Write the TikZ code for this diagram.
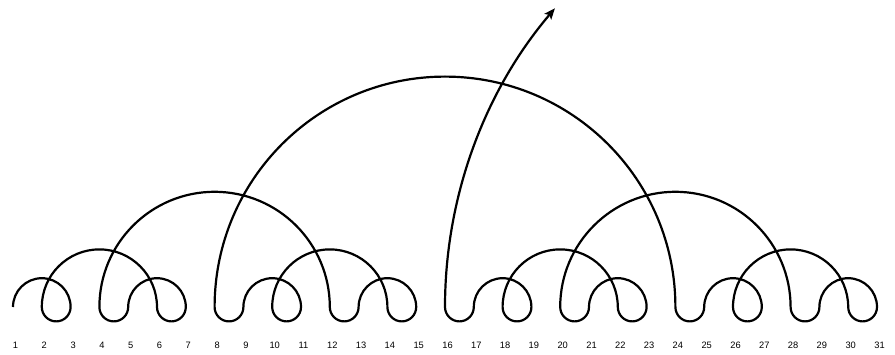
\documentclass[tikz,border=0pt]{standalone}
\usepackage{fontspec}
\setmainfont{Liberation Sans}
\usetikzlibrary{arrows.meta}
\begin{document}
\begin{tikzpicture}[x=1pt,y=1pt,
  curve/.style={line width=2.2pt,line join=round,line cap=butt,-{Stealth[length=11pt,width=9pt,inset=2.5pt]}},
  numlabel/.style={font=\fontsize{9.3}{10}\selectfont,inner sep=0pt,anchor=center}]
\useasboundingbox (0,0) rectangle (895,354);
% semicircle radii
\def\ra{28.8pt}
\def\rh{14.4pt}
\draw[curve] (13,47)
  arc[start angle=180,end angle=0,radius=\ra]      % 1 -> 3
  arc[start angle=0,end angle=-180,radius=\rh]     % 3 -> 2
  arc[start angle=180,end angle=0,radius=57.6pt]   % 2 -> 6
  arc[start angle=180,end angle=360,radius=\rh]    % 6 -> 7
  arc[start angle=0,end angle=180,radius=\ra]      % 7 -> 5
  arc[start angle=0,end angle=-180,radius=\rh]     % 5 -> 4
  arc[start angle=180,end angle=0,radius=115.2pt]  % 4 -> 12
  arc[start angle=180,end angle=360,radius=\rh]    % 12 -> 13
  arc[start angle=180,end angle=0,radius=\ra]      % 13 -> 15
  arc[start angle=0,end angle=-180,radius=\rh]     % 15 -> 14
  arc[start angle=0,end angle=180,radius=57.6pt]   % 14 -> 10
  arc[start angle=180,end angle=360,radius=\rh]    % 10 -> 11
  arc[start angle=0,end angle=180,radius=\ra]      % 11 -> 9
  arc[start angle=0,end angle=-180,radius=\rh]     % 9 -> 8
  arc[start angle=180,end angle=0,radius=230.4pt]  % 8 -> 24
  arc[start angle=180,end angle=360,radius=\rh]    % 24 -> 25
  arc[start angle=180,end angle=0,radius=\ra]      % 25 -> 27
  arc[start angle=0,end angle=-180,radius=\rh]     % 27 -> 26
  arc[start angle=180,end angle=0,radius=57.6pt]   % 26 -> 30
  arc[start angle=180,end angle=360,radius=\rh]    % 30 -> 31
  arc[start angle=0,end angle=180,radius=\ra]      % 31 -> 29
  arc[start angle=0,end angle=-180,radius=\rh]     % 29 -> 28
  arc[start angle=0,end angle=180,radius=115.2pt]  % 28 -> 20
  arc[start angle=180,end angle=360,radius=\rh]    % 20 -> 21
  arc[start angle=180,end angle=0,radius=\ra]      % 21 -> 23
  arc[start angle=0,end angle=-180,radius=\rh]     % 23 -> 22
  arc[start angle=0,end angle=180,radius=57.6pt]   % 22 -> 18
  arc[start angle=180,end angle=360,radius=\rh]    % 18 -> 19
  arc[start angle=0,end angle=180,radius=\ra]      % 19 -> 17
  arc[start angle=0,end angle=-180,radius=\rh]     % 17 -> 16
  arc[start angle=180,end angle=139.6,radius=460.8pt]; % 16 -> out
\foreach \k in {1,...,31}{
  \node[numlabel] (n\k) at ({15.5+28.8*(\k-1)},8.5) {\k};
}
\end{tikzpicture}
\end{document}
